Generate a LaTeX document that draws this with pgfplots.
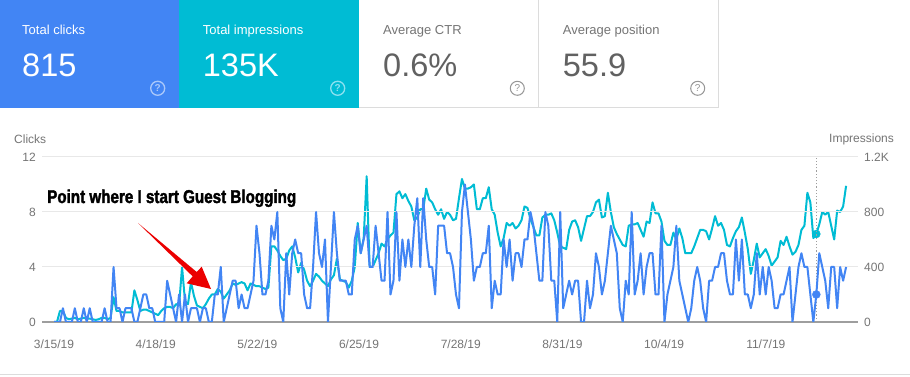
\documentclass[border=0pt]{standalone}
\usepackage{pgfplots}
\pgfplotsset{compat=1.18}
\usepackage{pgfplotstable}
\usepackage{graphicx}
\usepackage{fontspec}
\setmainfont{Liberation Sans}
\newfontfamily\annfont{Liberation Sans Bold}[FakeBold=2.2]
\definecolor{gblue}{RGB}{66,133,244}
\definecolor{gteal}{RGB}{0,188,212}
\definecolor{gtxt}{RGB}{117,117,117}
\definecolor{ggrid}{RGB}{232,232,232}
\definecolor{gaxis}{RGB}{158,158,158}
\definecolor{gborder}{RGB}{220,220,220}
\definecolor{gval}{RGB}{97,97,97}
\definecolor{qblue}{RGB}{170,200,250}
\definecolor{qteal}{RGB}{140,225,240}
\definecolor{qgray}{RGB}{150,150,150}
\definecolor{ared}{RGB}{235,0,0}

\pgfplotstableread{
c i
0 0
0 0
0 80
1 80
0 30
0 20
0 25
1 30
0 20
0 25
1 30
0 25
1 25
0 20
0 15
0 20
0 30
1 30
0 20
0 30
4 180
1 80
1 80
0 70
1 70
1 70
1 70
0 230
0 160
1 80
2 90
2 90
1 80
1 70
0 60
0 50
0 80
0 100
3 110
2 110
1 100
0 130
2 120
0 400
2 150
0 130
1 290
1 190
1 120
0 110
1 100
1 130
0 170
0 200
2 200
2 240
4 220
0 170
1 200
2 230
3 280
3 270
1 280
2 290
1 280
1 230
2 280
3 270
7 260
5 260
2 250
2 240
3 250
7 550
6 550
8 520
1 480
0 450
5 460
2 520
5 550
6 470
5 360
5 430
2 380
1 300
1 260
4 300
8 350
5 330
4 300
6 280
0 260
4 310
8 340
5 460
3 310
3 300
3 290
2 250
2 300
6 400
7 720
5 500
6 610
7 1060
4 400
4 400
7 450
5 500
3 570
3 550
8 600
2 630
3 650
8 930
3 950
6 900
4 930
6 880
4 840
7 740
9 760
4 820
9 820
6 970
4 890
4 870
2 820
7 780
7 820
7 750
5 800
5 780
4 740
2 750
1 900
8 1040
10 970
8 970
6 980
3 1000
4 820
4 820
5 900
5 900
7 980
1 820
3 780
2 650
2 550
6 610
4 720
6 700
3 720
5 680
5 700
4 740
6 840
6 830
8 750
7 690
5 630
3 630
3 760
8 780
7 780
3 790
3 740
0 650
8 550
1 540
2 530
3 670
2 730
3 740
3 690
0 590
0 680
3 770
1 770
2 800
5 870
4 890
2 760
3 770
5 940
7 800
6 690
5 640
1 600
0 560
3 550
2 700
8 710
2 710
3 720
5 670
2 620
4 730
5 720
5 870
2 790
2 790
7 730
0 590
2 560
3 560
4 650
7 600
3 680
2 610
1 500
0 500
1 500
3 550
4 610
3 670
1 670
0 660
3 600
3 680
4 770
4 700
5 720
5 670
3 560
2 550
2 610
6 660
3 690
6 760
2 650
2 530
1 350
2 450
5 570
2 470
4 500
2 530
4 480
3 410
1 440
1 470
2 590
2 560
3 620
4 550
0 490
2 510
4 560
5 670
4 700
4 940
2 870
0 610
2 640
5 710
4 800
3 780
1 800
4 700
4 600
1 810
4 800
3 840
4 990
}\gscdata

\begin{document}
\begin{tikzpicture}[x=1pt,y=1pt]
\path[use as bounding box] (0,0) rectangle (910,377);
\fill[white] (0,0) rectangle (910,377);
% summary cards
\fill[gblue] (0,269) rectangle (179,377);
\fill[gteal] (179,269) rectangle (359,377);
\draw[gborder, line width=1pt] (359,269.5) -- (718.5,269.5);
\draw[gborder, line width=1pt] (538.5,269) -- (538.5,377);
\draw[gborder, line width=1pt] (718.5,269) -- (718.5,377);
\node[anchor=base west, inner sep=0pt, text=white, font=\fontsize{13}{15}\selectfont] at (22,342) {Total clicks};
\node[anchor=base west, inner sep=0pt, text=white, font=\fontsize{32.5}{36}\selectfont] at (22,300.3) {815};
\node[anchor=base west, inner sep=0pt, text=white, font=\fontsize{13}{15}\selectfont] at (202.7,342) {Total impressions};
\node[anchor=base west, inner sep=0pt, text=white, font=\fontsize{32.5}{36}\selectfont] at (202.7,300.3) {135K};
\node[anchor=base west, inner sep=0pt, text=gtxt, font=\fontsize{13}{15}\selectfont] at (383,342) {Average CTR};
\node[anchor=base west, inner sep=0pt, text=gval, font=\fontsize{32.5}{36}\selectfont] at (383,300.3) {0.6\%};
\node[anchor=base west, inner sep=0pt, text=gtxt, font=\fontsize{13}{15}\selectfont] at (562.7,342) {Average position};
\node[anchor=base west, inner sep=0pt, text=gval, font=\fontsize{32.5}{36}\selectfont] at (562.7,300.3) {55.9};
% help icons
\draw[qblue, line width=1.3pt] (157.7,288.7) circle (7);
\node[text=qblue, font=\fontsize{10}{10}\selectfont\bfseries, inner sep=0pt] at (157.7,288.7) {?};
\draw[qteal, line width=1.3pt] (337.7,288.7) circle (7);
\node[text=qteal, font=\fontsize{10}{10}\selectfont\bfseries, inner sep=0pt] at (337.7,288.7) {?};
\draw[qgray, line width=1pt] (517.3,288.7) circle (7);
\node[text=qgray, font=\fontsize{10}{10}\selectfont, inner sep=0pt] at (517.3,288.7) {?};
\draw[qgray, line width=1pt] (697.7,288.7) circle (7);
\node[text=qgray, font=\fontsize{10}{10}\selectfont, inner sep=0pt] at (697.7,288.7) {?};
% axis titles
\node[anchor=west, inner sep=0pt, text=gtxt, font=\fontsize{12}{14}\selectfont] at (14,238) {Clicks};
\node[anchor=west, inner sep=0pt, text=gtxt, font=\fontsize{12}{14}\selectfont] at (829,238) {Impressions};
% bottom border
\draw[gborder, line width=1.2pt] (0,2.5) -- (910,2.5);

\pgfplotsset{gsc/.style={
  scale only axis, width=816pt, height=165pt,
  at={(42pt,55pt)}, anchor=south west,
  xmin=-4.03, xmax=270,
  major tick length=0pt,
  /pgf/number format/assume math mode=true,
  tick label style={font=\fontsize{12}{14}\selectfont, text=gtxt},
}}

\begin{axis}[gsc,
  ymin=0, ymax=1200,
  hide x axis,
  axis y line*=right, yticklabel pos=right,
  y axis line style={draw=none},
  ytick={0,400,800,1200}, yticklabels={0,400,800,1.2K},
  yticklabel style={anchor=west, inner sep=0pt, xshift=6pt},
]
\addplot[gteal, line width=2pt, line join=round] table[x expr=\coordindex, y=i] {\gscdata};
\addplot[only marks, mark=*, mark size=4pt, gteal] coordinates {(256,640)};
\end{axis}

\begin{axis}[gsc,
  ymin=0, ymax=12,
  axis x line*=bottom, axis y line*=left,
  x axis line style={draw=gaxis, line width=1.2pt, -},
  y axis line style={draw=none},
  ymajorgrids, grid style={ggrid, line width=1pt},
  ytick={0,4,8,12}, yticklabels={0,4,8,12},
  yticklabel style={anchor=east, inner sep=0pt, xshift=-6pt},
  xtick={0,34.15,68.3,102.45,136.6,170.75,204.9,239.05},
  xticklabels={3/15/19,4/18/19,5/22/19,6/25/19,7/28/19,8/31/19,10/4/19,11/7/19},
  xticklabel style={anchor=north, inner sep=0pt, yshift=-18pt},
]
\draw[gaxis, dotted, line width=1.2pt] (axis cs:256,0) -- (axis cs:256,12);
\addplot[gblue, line width=2pt, line join=round] table[x expr=\coordindex, y=c] {\gscdata};
\addplot[only marks, mark=*, mark size=4pt, gblue] coordinates {(256,2)};
\end{axis}

% annotation
\node[anchor=base west, inner sep=0pt] at (47,174) {\resizebox{249pt}{\height}{\fontsize{18.5}{20}\selectfont\annfont Point where I start Guest Blogging}};
\fill[ared] (138,154) -- (192.7,100.6) -- (186.7,93.7) -- (211,88) -- (201.7,110.3) -- (196.7,105) -- cycle;
\end{tikzpicture}
\end{document}
